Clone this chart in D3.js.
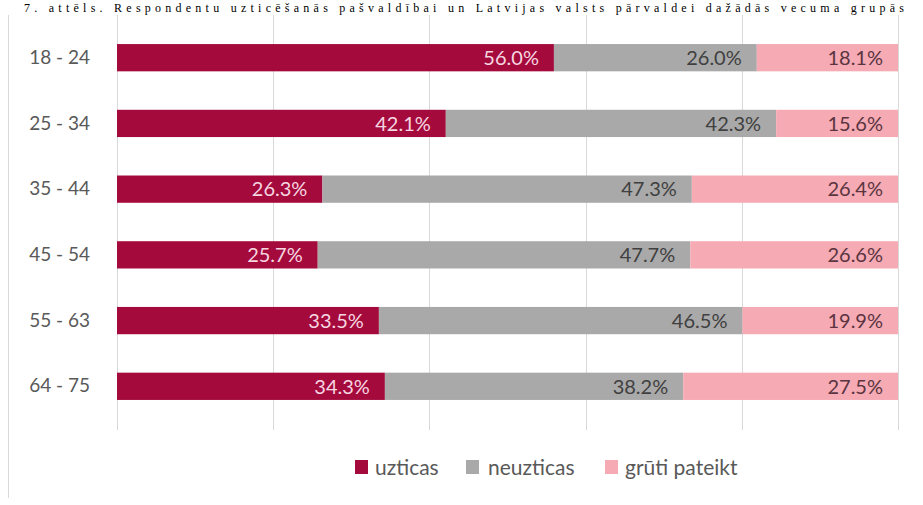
<!DOCTYPE html>
<html><head><meta charset="utf-8">
<script src="https://cdn.jsdelivr.net/npm/d3@7"></script>
<style>body{margin:0;background:#fff}svg{display:block}</style>
</head><body>
<script>
const categories = ["18 - 24","25 - 34","35 - 44","45 - 54","55 - 63","64 - 75"];
const seriesNames = ["uzticas","neuzticas","grūti pateikt"];
const uzticas =    [56.0, 42.1, 26.3, 25.7, 33.5, 34.3];
const neuzticas =  [26.0, 42.3, 47.3, 47.7, 46.5, 38.2];
const gruti =      [18.1, 15.6, 26.4, 26.6, 19.9, 27.5];
const xTicks = [0, 0.2, 0.4, 0.6, 0.8, 1];
const caption = "7. attēls. Respondentu uzticēšanās pašvaldībai un Latvijas valsts pārvaldei dažādās vecuma grupās";

const colors = ["#a50a3c", "#a9a9a9", "#f5aab4"];
const labelColors = ["#f6d6e0", "#404040", "#5a3440"];

const W = 923, H = 505;
const svg = d3.select("body").append("svg").attr("width", W).attr("height", H);

const rows = categories.map((c, i) => ({cat: c, "uzticas": uzticas[i], "neuzticas": neuzticas[i], "grūti pateikt": gruti[i]}));
const stack = d3.stack().keys(seriesNames).offset(d3.stackOffsetExpand);
const layers = stack(rows);

const x = d3.scaleLinear().domain([0, 1]).range([117, 898]);
const y = d3.scaleBand().domain(categories).range([25, 419]).paddingInner(0.585).paddingOuter(0.29);

// caption (small, at the very top)
svg.append("text").attr("x", 24).attr("y", 12)
  .attr("font-family", "Liberation Serif, Times New Roman, serif").attr("font-size", 12)
  .attr("textLength", 880).attr("lengthAdjust", "spacing")
  .attr("fill", "#000").text(caption);

// frame left line
svg.append("line").attr("x1", 8.5).attr("x2", 8.5).attr("y1", 15).attr("y2", 498)
  .attr("stroke", "#d9d9d9").attr("stroke-width", 1);

// gridlines
svg.append("g").selectAll("line").data(xTicks).join("line")
  .attr("x1", d => Math.round(x(d)) + 0.5).attr("x2", d => Math.round(x(d)) + 0.5)
  .attr("y1", 15).attr("y2", 430).attr("stroke", "#d9d9d9").attr("stroke-width", 1);

// bars
const g = svg.append("g");
layers.forEach((layer, li) => {
  g.append("g").selectAll("rect").data(layer).join("rect")
    .attr("x", d => x(d[0])).attr("width", d => x(d[1]) - x(d[0]))
    .attr("y", d => y(d.data.cat)).attr("height", y.bandwidth())
    .attr("fill", colors[li]);
  g.append("g").selectAll("text").data(layer).join("text")
    .attr("x", d => x(d[1]) - 15)
    .attr("y", d => y(d.data.cat) + y.bandwidth() / 2)
    .attr("dy", "0.36em").attr("text-anchor", "end")
    .attr("font-family", "Lato, Open Sans, sans-serif").attr("font-size", 20)
    .attr("fill", labelColors[li])
    .text(d => d.data[layer.key].toFixed(1) + "%");
});

// category axis
const yAxis = svg.append("g").attr("transform", "translate(117,0)")
  .call(d3.axisLeft(y).tickSize(0).tickPadding(27));
yAxis.select(".domain").remove();
yAxis.selectAll("text").attr("font-family", "Lato, Open Sans, sans-serif")
  .attr("font-size", 19).attr("fill", "#595959");

// legend
const legendX = [355, 466, 605];
const lg = svg.append("g");
seriesNames.forEach((s, i) => {
  lg.append("rect").attr("x", legendX[i]).attr("y", 460).attr("width", 13).attr("height", 14).attr("fill", colors[i]);
  lg.append("text").attr("x", legendX[i] + (i === 1 ? 22 : 20)).attr("y", 467).attr("dy", "0.36em")
    .attr("font-family", "Lato, Open Sans, sans-serif").attr("font-size", 21)
    .attr("fill", "#595959").text(s);
});
</script>
</body></html>
